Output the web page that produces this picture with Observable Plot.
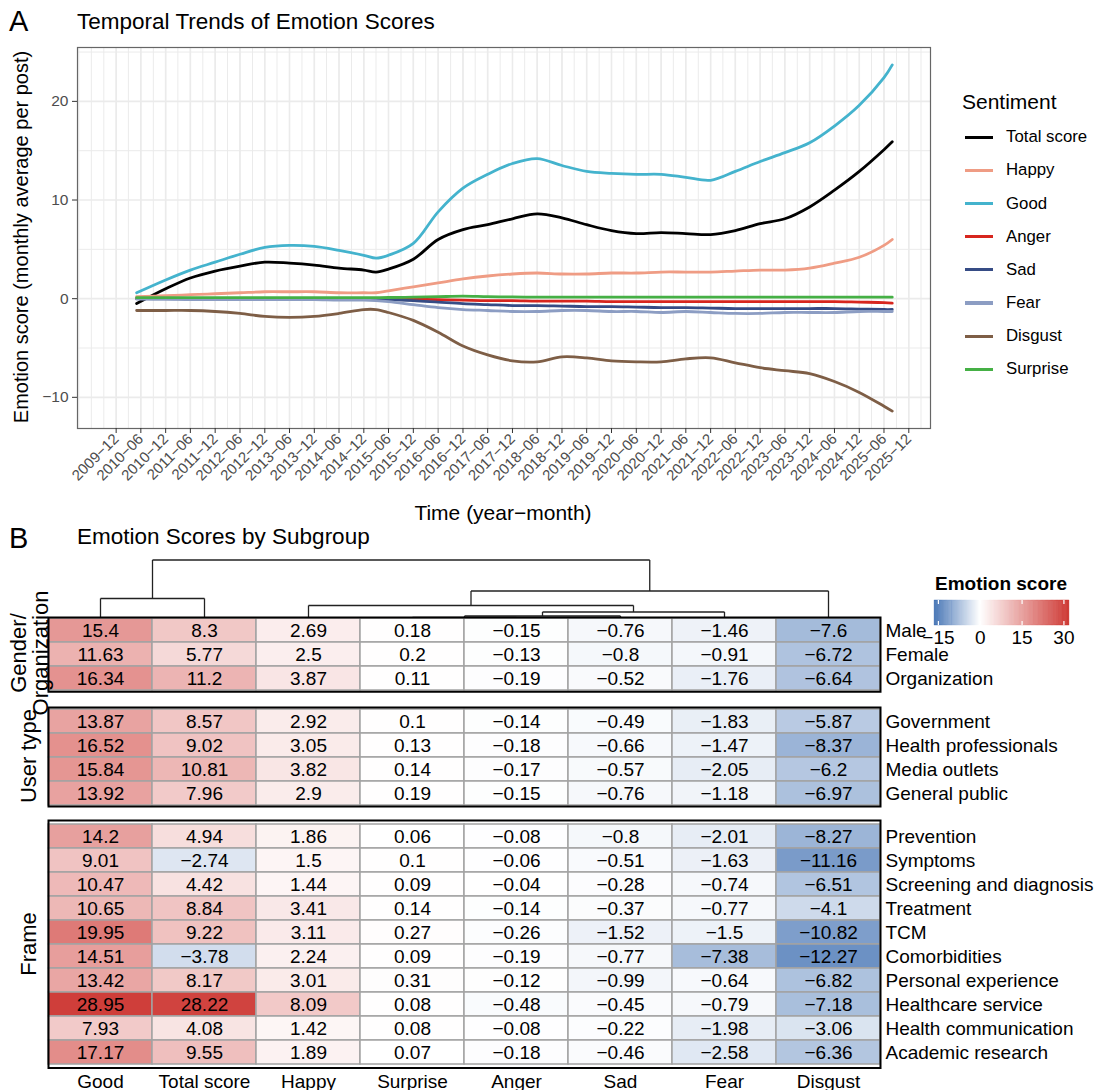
<!DOCTYPE html>
<html><head><meta charset="utf-8">
<script src="https://cdn.jsdelivr.net/npm/d3@7"></script>
<script src="https://cdn.jsdelivr.net/npm/@observablehq/plot@0.6"></script>
<style>
body{margin:0;background:#fff;font-family:"Liberation Sans",Arial,sans-serif;}
#wrap{position:relative;width:1098px;height:1090px;overflow:hidden;background:#fff}
.abs{position:absolute;white-space:nowrap;line-height:1}
#wrap svg{position:absolute;overflow:visible}
</style></head><body><div id="wrap"></div><script>
// ---------------- Panel A data ----------------
const sampleDates = ["2010-05","2010-12","2011-06","2011-12","2012-06","2012-12","2013-06","2013-12","2014-06","2014-12","2015-03","2015-06","2015-12","2016-06","2016-12","2017-06","2017-12","2018-06","2018-12","2019-06","2019-12","2020-06","2020-12","2021-06","2021-12","2022-06","2022-12","2023-06","2023-12","2024-06","2024-12","2025-06","2025-08"];
const totalScore = [-0.5,1.0,2.1,2.8,3.3,3.7,3.6,3.4,3.1,2.9,2.7,3.0,4.0,6.0,7.0,7.5,8.1,8.6,8.2,7.5,6.9,6.6,6.7,6.6,6.5,6.9,7.6,8.1,9.3,11.0,12.9,15.1,15.9];
const happy = [0.2,0.3,0.4,0.5,0.6,0.7,0.7,0.7,0.6,0.6,0.6,0.8,1.2,1.6,2.0,2.3,2.5,2.6,2.5,2.5,2.6,2.6,2.7,2.7,2.7,2.8,2.9,2.9,3.1,3.6,4.2,5.4,6.0];
const good = [0.6,1.9,2.9,3.7,4.5,5.2,5.4,5.3,4.9,4.4,4.1,4.4,5.6,8.8,11.2,12.6,13.7,14.2,13.5,12.9,12.7,12.6,12.6,12.3,12.0,12.9,13.9,14.8,15.8,17.5,19.6,22.4,23.7];
const anger = [0,0,0,0,0,0,0,0,0,0,0,0,-0.05,-0.1,-0.15,-0.2,-0.2,-0.25,-0.25,-0.25,-0.3,-0.3,-0.3,-0.3,-0.3,-0.3,-0.3,-0.3,-0.3,-0.3,-0.35,-0.4,-0.45];
const sad = [0,-0.02,-0.03,-0.04,-0.05,-0.05,-0.05,-0.05,-0.05,-0.05,-0.05,-0.1,-0.2,-0.35,-0.5,-0.6,-0.7,-0.7,-0.75,-0.8,-0.8,-0.85,-0.9,-0.9,-0.95,-1.0,-1.0,-1.0,-1.0,-1.0,-1.05,-1.1,-1.1];
const fear = [-0.05,-0.05,-0.1,-0.1,-0.1,-0.1,-0.1,-0.1,-0.15,-0.15,-0.2,-0.3,-0.6,-0.9,-1.1,-1.2,-1.3,-1.3,-1.2,-1.2,-1.3,-1.3,-1.4,-1.3,-1.4,-1.5,-1.5,-1.4,-1.4,-1.4,-1.3,-1.3,-1.3];
const disgust = [-1.2,-1.2,-1.2,-1.3,-1.5,-1.8,-1.9,-1.8,-1.5,-1.1,-1.1,-1.4,-2.2,-3.4,-4.8,-5.7,-6.3,-6.4,-5.9,-6.0,-6.3,-6.4,-6.4,-6.1,-6.0,-6.5,-7.0,-7.3,-7.6,-8.4,-9.5,-10.9,-11.4];
const surprise = [0.1,0.1,0.1,0.1,0.1,0.1,0.1,0.1,0.1,0.1,0.1,0.12,0.15,0.2,0.25,0.2,0.18,0.15,0.15,0.15,0.15,0.15,0.15,0.15,0.15,0.15,0.15,0.15,0.15,0.15,0.15,0.15,0.15];
const seriesNames = ["Total score","Happy","Good","Anger","Sad","Fear","Disgust","Surprise"];
const seriesValues = [totalScore,happy,good,anger,sad,fear,disgust,surprise];
const seriesColors = ["#000000","#EF9C84","#44B3CD","#D7261E","#364C85","#8C9DC3","#7E5E46","#45B045"];
const yTicksA = [-10,0,10,20];
const yMinorA = [-5,5,15,25];

// ---------------- Panel B data ----------------
const columns = ["Good","Total score","Happy","Surprise","Anger","Sad","Fear","Disgust"];
const groupGender = ["Male","Female","Organization"];
const valuesGender = [
  [15.4,8.3,2.69,0.18,-0.15,-0.76,-1.46,-7.6],
  [11.63,5.77,2.5,0.2,-0.13,-0.8,-0.91,-6.72],
  [16.34,11.2,3.87,0.11,-0.19,-0.52,-1.76,-6.64]];
const groupUser = ["Government","Health professionals","Media outlets","General public"];
const valuesUser = [
  [13.87,8.57,2.92,0.1,-0.14,-0.49,-1.83,-5.87],
  [16.52,9.02,3.05,0.13,-0.18,-0.66,-1.47,-8.37],
  [15.84,10.81,3.82,0.14,-0.17,-0.57,-2.05,-6.2],
  [13.92,7.96,2.9,0.19,-0.15,-0.76,-1.18,-6.97]];
const groupFrame = ["Prevention","Symptoms","Screening and diagnosis","Treatment","TCM","Comorbidities","Personal experience","Healthcare service","Health communication","Academic research"];
const valuesFrame = [
  [14.2,4.94,1.86,0.06,-0.08,-0.8,-2.01,-8.27],
  [9.01,-2.74,1.5,0.1,-0.06,-0.51,-1.63,-11.16],
  [10.47,4.42,1.44,0.09,-0.04,-0.28,-0.74,-6.51],
  [10.65,8.84,3.41,0.14,-0.14,-0.37,-0.77,-4.1],
  [19.95,9.22,3.11,0.27,-0.26,-1.52,-1.5,-10.82],
  [14.51,-3.78,2.24,0.09,-0.19,-0.77,-7.38,-12.27],
  [13.42,8.17,3.01,0.31,-0.12,-0.99,-0.64,-6.82],
  [28.95,28.22,8.09,0.08,-0.48,-0.45,-0.79,-7.18],
  [7.93,4.08,1.42,0.08,-0.08,-0.22,-1.98,-3.06],
  [17.17,9.55,1.89,0.07,-0.18,-0.46,-2.58,-6.36]];
// dendrogram merges: [left, right, height]
const dendroMerges = [
  ["Surprise","Anger",1.2],
  ["m1","Sad",2.5],
  ["m2","Fear",6.5],
  ["Happy","m3",13],
  ["m4","Disgust",27.5],
  ["Good","Total score",20],
  ["m6","m5",58.5]];
const legendTicks = [-15,0,15,30];
const colorDomain = [-16.4,0,32];
const colorRange = ["#3B6CB0","#FFFFFF","#CA2A25"];

// ---------------- helpers ----------------
const FONT = "Liberation Sans, Arial, sans-serif";
const wrap = document.getElementById("wrap");
const minus = s => String(s).replace("-", "\u2212");
function put(svg, left, top){ svg.style.left = left+"px"; svg.style.top = top+"px"; wrap.appendChild(svg); }
function label(text, x, y, o = {}){
  const s = document.createElement("div");
  s.className = "abs"; s.textContent = text;
  s.style.fontSize = (o.size||16)+"px"; s.style.fontWeight = o.weight||"normal"; s.style.color = o.color||"#000";
  s.style.left = x+"px"; s.style.top = y+"px";
  const tx = o.anchor==="middle" ? "-50%" : o.anchor==="end" ? "-100%" : "0";
  s.style.transform = `translate(${tx},-50%)` + (o.rotate ? ` rotate(${o.rotate}deg)` : "");
  wrap.appendChild(s); return s;
}

// ---------------- Panel A ----------------
const parse = d3.utcParse("%Y-%m");
const long = seriesNames.flatMap((name,i) => sampleDates.map((d,j) => ({series:name, date:parse(d), value:seriesValues[i][j]})));
const allMonths = d3.utcMonth.range(parse("2009-01"), parse("2026-06"));
const majorTicks = allMonths.filter(d => d >= parse("2009-12") && d <= parse("2025-12") && d.getUTCMonth() % 6 === 5);
const minorTicks = allMonths.filter(d => d.getUTCMonth() % 3 === 2);
const xDomainA = [new Date(Date.UTC(2009,1,19)), new Date(Date.UTC(2026,4,10))];
const grid = "#EBEBEB";
const chartA = Plot.plot({
  width:1098, height:530, marginLeft:77, marginRight:168, marginTop:47, marginBottom:102,
  style:{fontFamily:FONT, background:"transparent", color:"#4D4D4D"},
  x:{type:"utc", domain:xDomainA},
  y:{domain:[-13.16,25.46]},
  color:{domain:seriesNames, range:seriesColors},
  marks:[
    Plot.gridX(minorTicks,{stroke:grid, strokeOpacity:1, strokeWidth:1}),
    Plot.gridX(majorTicks,{stroke:grid, strokeOpacity:1, strokeWidth:1.6}),
    Plot.gridY(yMinorA,{stroke:grid, strokeOpacity:1, strokeWidth:1}),
    Plot.gridY(yTicksA,{stroke:grid, strokeOpacity:1, strokeWidth:1.6}),
    Plot.line(long,{x:"date", y:"value", z:"series", stroke:"series", strokeWidth:2.8, curve:"catmull-rom"}),
    Plot.frame({stroke:"#666", strokeWidth:1.2}),
    Plot.axisY(yTicksA,{tickSize:5, tickPadding:4, fontSize:15.5, label:null, tickFormat:minus, stroke:"#333"}),
    Plot.axisX(majorTicks,{tickSize:5, tickPadding:3, tickRotate:-45, fontSize:15, label:null, stroke:"#333",
      tickFormat:d => d3.utcFormat("%Y")(d)+"\u2212"+d3.utcFormat("%m")(d)})
  ]
});
put(chartA,0,0);
label("A",9,21,{size:29});
label("Temporal Trends of Emotion Scores",77,22,{size:22.5});
label("Emotion score (monthly average per post)",21,237,{size:20,anchor:"middle",rotate:-90});
label("Time (year\u2212month)",503,512,{size:21,anchor:"middle"});
label("Sentiment",962,101,{size:21});
seriesNames.forEach((n,i) => {
  const y = 137.3 + i*33.15;
  const sw = document.createElement("div");
  sw.className = "abs";
  Object.assign(sw.style,{left:"965px", top:(y-1.6)+"px", width:"28px", height:"3.2px", background:seriesColors[i]});
  wrap.appendChild(sw);
  label(n,1006,y,{size:16.8});
});

// ---------------- Panel B ----------------
label("B",9,538,{size:29});
label("Emotion Scores by Subgroup",77,537,{size:22.5});
const colorScale = {type:"linear", domain:colorDomain, range:colorRange, interpolate:d3.interpolateRgb};

// dendrogram
const nodes = {};
columns.forEach((c,i) => nodes[c] = {x:i, h:0});
const segs = [];
dendroMerges.forEach(([a,b,h],k) => {
  const A = nodes[a], B = nodes[b];
  segs.push({x1:A.x,y1:A.h,x2:A.x,y2:h},{x1:A.x,y1:h,x2:B.x,y2:h},{x1:B.x,y1:h,x2:B.x,y2:B.h});
  nodes["m"+(k+1)] = {x:(A.x+B.x)/2, h};
});
const dendro = Plot.plot({
  width:1098, height:70, marginLeft:48, marginRight:218, marginTop:8, marginBottom:2,
  style:{fontFamily:FONT, background:"transparent"},
  x:{domain:[-0.5, columns.length-0.5], axis:null},
  y:{domain:[0,60], axis:null},
  marks:[Plot.link(segs,{x1:"x1",y1:"y1",x2:"x2",y2:"y2", stroke:"#222", strokeWidth:1.3})]
});
put(dendro,0,550);

function heat(rows, vals, top, last){
  const data = rows.flatMap((r,i) => columns.map((c,j) => ({row:r, col:c, v:vals[i][j]})));
  const h = rows.length*24.75;
  const p = Plot.plot({
    width:1098, height:h+2+(last?22:2), marginLeft:48, marginRight:218, marginTop:2, marginBottom:last?22:2,
    style:{fontFamily:FONT, background:"transparent", color:"#000"},
    x:{domain:columns, padding:0, axis: last ? undefined : null},
    y:{domain:rows, padding:0},
    color:colorScale,
    marks:[
      Plot.cell(data,{x:"col", y:"row", fill:"v", stroke:"#A3A3A3", strokeWidth:1.5, inset:0}),
      Plot.text(data,{x:"col", y:"row", text:d => minus(d.v), fontSize:19, fill:"#000"}),
      Plot.frame({stroke:"#000", strokeWidth:2}),
      Plot.axisY({anchor:"right", tickSize:0, tickPadding:5, fontSize:19, label:null}),
      last ? Plot.axisX({anchor:"bottom", tickSize:0, tickPadding:6, fontSize:19, label:null}) : null
    ]
  });
  put(p,0,top);
}
heat(groupGender, valuesGender, 615, false);
heat(groupUser, valuesUser, 705, false);
heat(groupFrame, valuesFrame, 818, true);

label("Gender/",19,653,{size:22,anchor:"middle",rotate:-90});
label("Organization",41,653,{size:22,anchor:"middle",rotate:-90});
label("User type",29,756,{size:22,anchor:"middle",rotate:-90});
label("Frame",29,944,{size:22,anchor:"middle",rotate:-90});

// color legend
const steps = d3.range(colorDomain[0], colorDomain[2], 0.2).map(v => ({x1:v, x2:Math.min(v+0.2, colorDomain[2]), v}));
const leg = Plot.plot({
  width:158, height:77, marginLeft:9, marginRight:14, marginTop:30, marginBottom:22,
  style:{fontFamily:FONT, background:"transparent", color:"#000"},
  x:{domain:[colorDomain[0], colorDomain[2]]},
  y:{domain:[0,1], axis:null},
  color:colorScale,
  marks:[
    Plot.rect(steps,{x1:"x1", x2:"x2", y1:0, y2:1, fill:"v", stroke:"v", strokeWidth:0.3}),
    Plot.ruleX(legendTicks,{y1:0, y2:0.16, stroke:"white", strokeWidth:1.2}),
    Plot.ruleX(legendTicks,{y1:0.84, y2:1, stroke:"white", strokeWidth:1.2}),
    Plot.axisX(legendTicks,{anchor:"bottom", tickSize:0, tickPadding:5, fontSize:19, label:null, tickFormat:minus})
  ]
});
put(leg,925,570);
label("Emotion score",1001,583,{size:19,weight:"bold",anchor:"middle"});
</script></body></html>
